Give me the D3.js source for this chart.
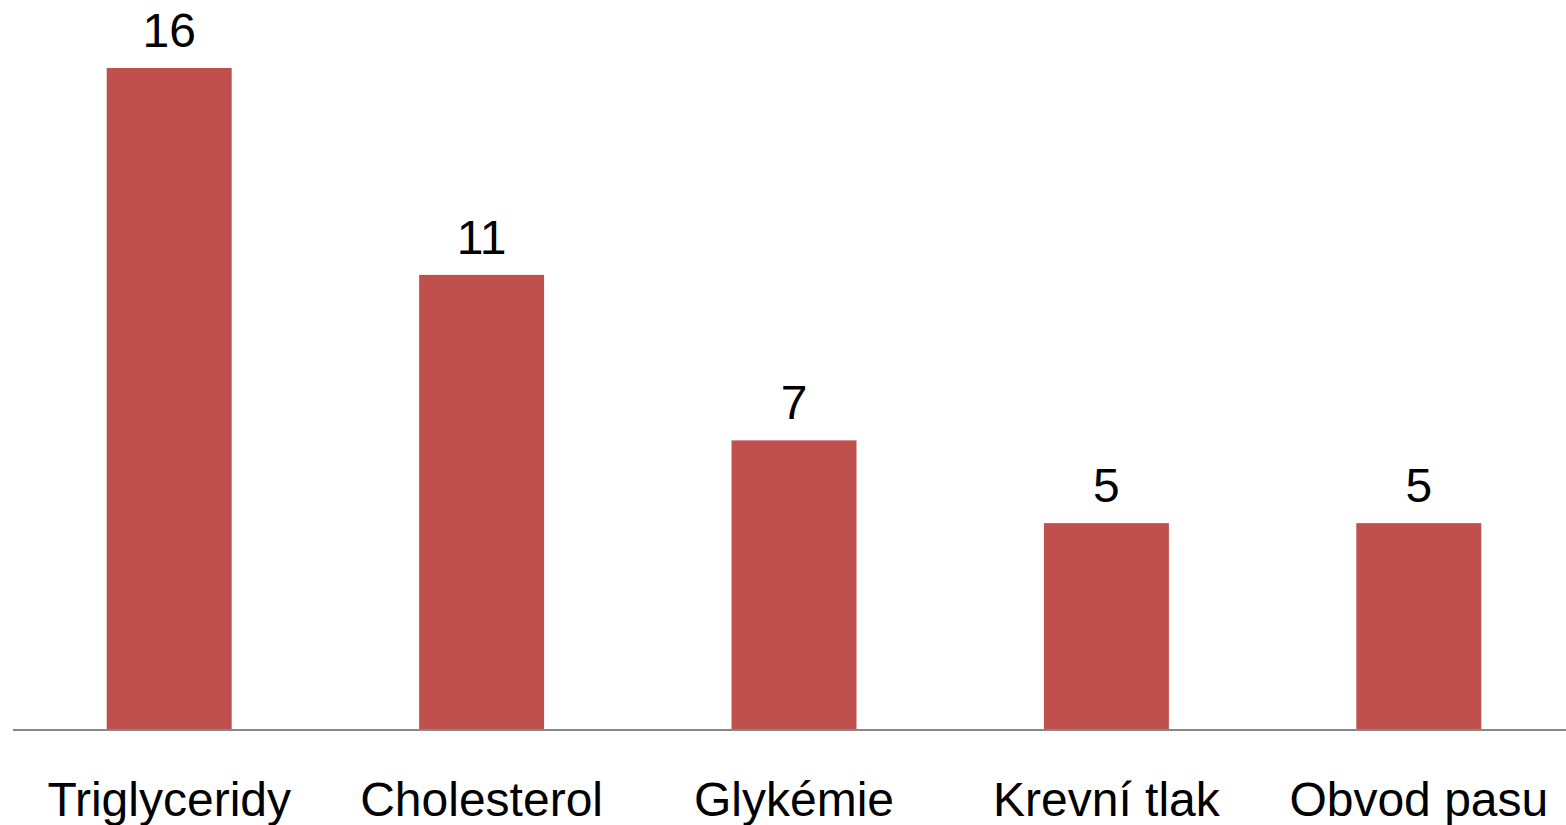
<!DOCTYPE html>
<html><head><meta charset="utf-8">
<script src="https://cdn.jsdelivr.net/npm/d3@7"></script>
<style>html,body{margin:0;padding:0;background:#fff;overflow:hidden}</style>
</head><body>
<svg id="c" width="1566" height="825"></svg>
<script>
const categories = ["Triglyceridy", "Cholesterol", "Glykémie", "Krevní tlak", "Obvod pasu"];
const values = [16, 11, 7, 5, 5];

const svg = d3.select("#c");
const axisY = 730, left = 13, right = 1575;
const x = d3.scaleBand().domain(categories).range([left, right]).paddingInner(0.6).paddingOuter(0.3);
const y = d3.scaleLinear().domain([0, 16]).range([axisY, 68]);
const font = "'Liberation Sans', Arial, sans-serif";

svg.selectAll("rect.bar").data(values).join("rect")
  .attr("class", "bar")
  .attr("x", (d, i) => x(categories[i]))
  .attr("y", d => y(d))
  .attr("width", x.bandwidth())
  .attr("height", d => axisY - y(d))
  .attr("fill", "#c0504d");

svg.selectAll("text.val").data(values).join("text")
  .attr("class", "val")
  .attr("x", (d, i) => x(categories[i]) + x.bandwidth() / 2)
  .attr("y", d => y(d) - 21)
  .attr("text-anchor", "middle")
  .attr("font-family", font)
  .attr("font-size", 48)
  .attr("fill", "#000")
  .text(d => d);

const axis = d3.axisBottom(x).tickSize(0).tickPadding(0);
const g = svg.append("g").attr("transform", `translate(0,${axisY})`).call(axis);
g.select(".domain").attr("stroke", "#888").attr("stroke-width", 2).attr("d", `M${left},0H${right}`);
g.selectAll(".tick text")
  .attr("font-family", font)
  .attr("font-size", 48)
  .attr("fill", "#000")
  .attr("dy", null)
  .attr("y", 86);
</script>
</body></html>
